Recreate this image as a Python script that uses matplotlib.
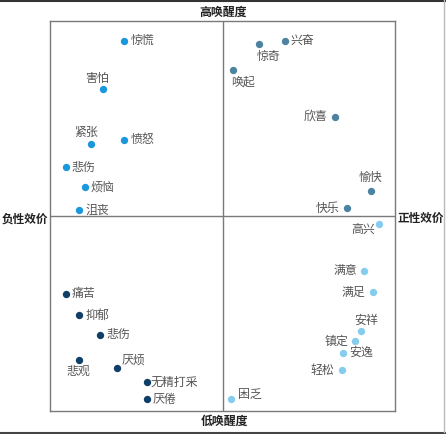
import matplotlib.pyplot as plt
from matplotlib.lines import Line2D

plt.rcParams['font.family'] = ['Noto Sans CJK SC', 'DejaVu Sans']

# 四个象限的情绪词（效价 x, 唤醒度 y）
hp_words = ['惊慌', '害怕', '紧张', '愤怒', '悲伤', '烦恼', '沮丧']
hp_x = [-0.57, -0.69, -0.76, -0.57, -0.91, -0.80, -0.83]
hp_y = [0.90, 0.65, 0.37, 0.39, 0.25, 0.15, 0.03]

pp_words = ['兴奋', '惊奇', '唤起', '欣喜', '愉快', '快乐']
pp_x = [0.36, 0.21, 0.06, 0.65, 0.86, 0.72]
pp_y = [0.90, 0.88, 0.75, 0.51, 0.13, 0.04]

nl_words = ['痛苦', '抑郁', '悲伤', '悲观', '厌烦', '无精打采', '厌倦']
nl_x = [-0.91, -0.83, -0.71, -0.83, -0.61, -0.44, -0.44]
nl_y = [-0.40, -0.51, -0.61, -0.74, -0.78, -0.85, -0.94]

pl_words = ['高兴', '满意', '满足', '安祥', '镇定', '安逸', '轻松', '困乏']
pl_x = [0.91, 0.82, 0.87, 0.80, 0.77, 0.70, 0.69, 0.05]
pl_y = [-0.04, -0.28, -0.39, -0.59, -0.64, -0.70, -0.79, -0.94]

# 标签位置（像素偏移）
R = (6, 0, 'left', 'center')
L = (-7, 0, 'right', 'center')
hp_off = [R, (-6, 11, 'center', 'center'), (-5, 11, 'center', 'center'), R, R, R, R]
pp_off = [R, (10, -12, 'center', 'center'), (10, -12, 'center', 'center'), L,
          (0, 13, 'center', 'center'), L]
nl_off = [R, R, R, (-1, -11, 'center', 'center'), (16, 8, 'center', 'center'),
          (4, 0, 'left', 'center'), R]
pl_off = [(-16, -6, 'center', 'center'), L, L, (6, 11, 'center', 'center'), L, R, L,
          (7, 5, 'left', 'center')]

groups = [
    (hp_words, hp_x, hp_y, hp_off, '#1a98dc'),
    (pp_words, pp_x, pp_y, pp_off, '#4d83a0'),
    (nl_words, nl_x, nl_y, nl_off, '#0f3e66'),
    (pl_words, pl_x, pl_y, pl_off, '#86ccef'),
]

fig = plt.figure(figsize=(4.46, 4.34), dpi=100)
ax = fig.add_axes([50 / 446, 23 / 434, 345 / 446, 390 / 434])
ax.set_xlim(-1, 1)
ax.set_ylim(-1, 1)
ax.set_xticks([])
ax.set_yticks([])
for sp in ax.spines.values():
    sp.set_color('#7a7a7a')
    sp.set_linewidth(1.0)
ax.axhline(0, color='#7a7a7a', lw=1.0)
ax.axvline(0, color='#7a7a7a', lw=1.0)

for words, xs, ys, offs, c in groups:
    ax.scatter(xs, ys, s=28, color=c, zorder=3, linewidths=0)
    for w, x, y, (dx, dy, ha, va) in zip(words, xs, ys, offs):
        ax.annotate(w, (x, y), xytext=(dx, dy), textcoords='offset pixels',
                    ha=ha, va=va, fontsize=8.6, color='#555555')

# 坐标轴文字
fig.text(223 / 446, 1 - 12 / 434, '高唤醒度', ha='center', va='center',
         fontsize=8.6, fontweight='bold', color='#222222')
fig.text(224 / 446, 1 - 421 / 434, '低唤醒度', ha='center', va='center',
         fontsize=8.6, fontweight='bold', color='#222222')
fig.text(48 / 446, 1 - 219 / 434, '负性效价', ha='right', va='center',
         fontsize=8.4, fontweight='bold', color='#222222')
fig.text(397 / 446, 1 - 218 / 434, '正性效价', ha='left', va='center',
         fontsize=8.4, fontweight='bold', color='#222222')

# 外框
fig.add_artist(Line2D([0, 1], [1 - 0.5 / 434, 1 - 0.5 / 434], color='#333333', lw=1.5))
fig.add_artist(Line2D([0, 1], [1 - 432.5 / 434, 1 - 432.5 / 434], color='#444444', lw=1.5))
fig.add_artist(Line2D([443.5 / 446, 443.5 / 446], [1 - 432 / 434, 1], color='#bbbbbb', lw=1.0))

fig.savefig('out.png', dpi=100)
